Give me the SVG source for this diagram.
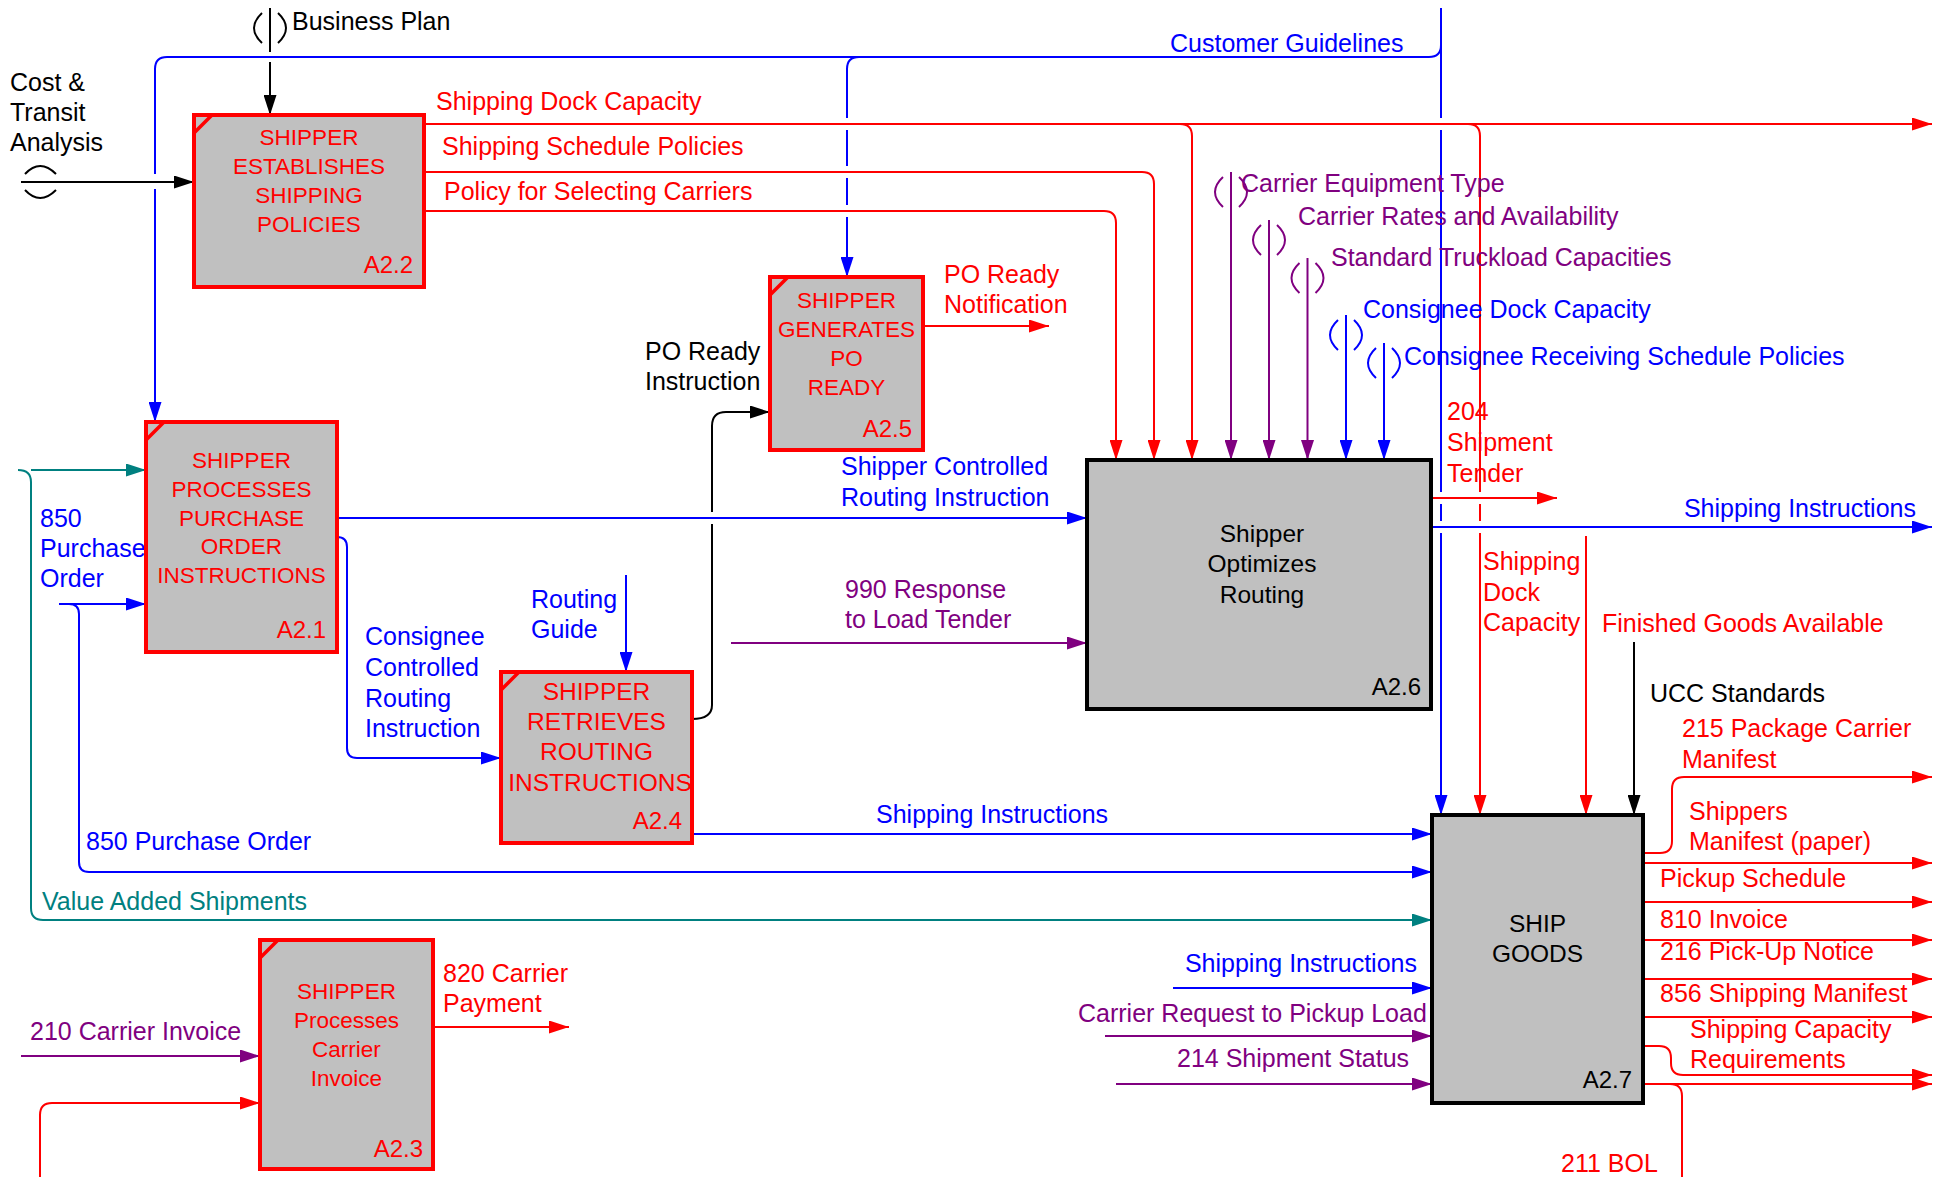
<svg xmlns="http://www.w3.org/2000/svg" width="1938" height="1177" viewBox="0 0 1938 1177">
<style>
text{font-family:"Liberation Sans",Arial,sans-serif;}
.l{font-size:25px;}
.bt{font-size:22.5px;text-anchor:middle;fill:#ff0000;}
.bt2{font-size:24.5px;text-anchor:middle;}
.id{font-size:24px;text-anchor:end;}
.rbox{fill:#c0c0c0;stroke:#ff0000;stroke-width:4;}
.kbox{fill:#c0c0c0;stroke:#000000;stroke-width:4;}
.tick{fill:none;stroke:#ff0000;stroke-width:3.5;}
.c{fill:none;stroke-width:2;}
.R{stroke:#ff0000;}.B{stroke:#0000ff;}.P{stroke:#800080;}.T{stroke:#008080;}.K{stroke:#000000;}
.fR{fill:#ff0000;}.fB{fill:#0000ff;}.fP{fill:#800080;}.fT{fill:#008080;}.fK{fill:#000000;}
</style>
<defs>
<marker id="aR" markerUnits="userSpaceOnUse" markerWidth="20" markerHeight="13" refX="20" refY="6.5" orient="auto"><path d="M0,0L20,6.5L0,13z" fill="#ff0000"/></marker>
<marker id="aB" markerUnits="userSpaceOnUse" markerWidth="20" markerHeight="13" refX="20" refY="6.5" orient="auto"><path d="M0,0L20,6.5L0,13z" fill="#0000ff"/></marker>
<marker id="aP" markerUnits="userSpaceOnUse" markerWidth="20" markerHeight="13" refX="20" refY="6.5" orient="auto"><path d="M0,0L20,6.5L0,13z" fill="#800080"/></marker>
<marker id="aT" markerUnits="userSpaceOnUse" markerWidth="20" markerHeight="13" refX="20" refY="6.5" orient="auto"><path d="M0,0L20,6.5L0,13z" fill="#008080"/></marker>
<marker id="aK" markerUnits="userSpaceOnUse" markerWidth="20" markerHeight="13" refX="20" refY="6.5" orient="auto"><path d="M0,0L20,6.5L0,13z" fill="#000000"/></marker>
</defs>
<rect width="1938" height="1177" fill="#ffffff"/>

<g id="connectors">
<!-- Business Plan -->
<path class="c K" d="M270,8V52"/>
<path class="c K" d="M270,62V115" marker-end="url(#aK)"/>
<path class="c K" d="M262,13Q246,28 262,43M278,13Q294,28 278,43"/>
<!-- Cost & Transit -->
<path class="c K" d="M21,182H194" marker-end="url(#aK)"/>
<path class="c K" d="M25,174Q40,158 56,174M25,190Q40,206 56,190"/>
<!-- Customer Guidelines -->
<path class="c B" d="M1441,8V118M1441,130V492M1441,504V521M1441,533V815" marker-end="url(#aB)"/>
<path class="c B" d="M1441,45Q1441,57 1429,57H167Q155,57 155,69V174M155,189V422" marker-end="url(#aB)"/>
<path class="c B" d="M859,57Q847,57 847,69V118M847,130V166M847,178V205M847,217V277" marker-end="url(#aB)"/>
<!-- Shipping Dock Capacity -->
<path class="c R" d="M424,124H1932" marker-end="url(#aR)"/>
<path class="c R" d="M1180,124Q1192,124 1192,136V460" marker-end="url(#aR)"/>
<path class="c R" d="M1468,124Q1480,124 1480,136V492M1480,504V521M1480,533V815" marker-end="url(#aR)"/>
<!-- Shipping Schedule Policies -->
<path class="c R" d="M424,172H1142Q1154,172 1154,184V460" marker-end="url(#aR)"/>
<!-- Policy for Selecting Carriers -->
<path class="c R" d="M424,211H1104Q1116,211 1116,223V460" marker-end="url(#aR)"/>
<!-- tunnel inputs to A2.6 -->
<path class="c P" d="M1231,172V460" marker-end="url(#aP)"/>
<path class="c P" d="M1223,177Q1207,192 1223,207M1239,177Q1255,192 1239,207"/>
<path class="c P" d="M1269,220V460" marker-end="url(#aP)"/>
<path class="c P" d="M1261,225Q1245,240 1261,255M1277,225Q1293,240 1277,255"/>
<path class="c P" d="M1307.5,258V460" marker-end="url(#aP)"/>
<path class="c P" d="M1299.5,263Q1283.5,278 1299.5,293M1315.5,263Q1331.5,278 1315.5,293"/>
<path class="c B" d="M1346,315V460" marker-end="url(#aB)"/>
<path class="c B" d="M1338,320Q1322,335 1338,350M1354,320Q1370,335 1354,350"/>
<path class="c B" d="M1384,343V460" marker-end="url(#aB)"/>
<path class="c B" d="M1376,348Q1360,363 1376,378M1392,348Q1408,363 1392,378"/>
<!-- A2.6 outputs -->
<path class="c R" d="M1431,498H1557" marker-end="url(#aR)"/>
<path class="c B" d="M1431,527H1932" marker-end="url(#aB)"/>
<!-- A2.7 controls -->
<path class="c R" d="M1586,536V815" marker-end="url(#aR)"/>
<path class="c K" d="M1634,642V815" marker-end="url(#aK)"/>
<!-- A2.7 outputs -->
<path class="c R" d="M1643,853H1660Q1672,853 1672,841V789Q1672,777 1684,777H1932" marker-end="url(#aR)"/>
<path class="c R" d="M1643,863H1932" marker-end="url(#aR)"/>
<path class="c R" d="M1643,902H1932" marker-end="url(#aR)"/>
<path class="c R" d="M1643,940H1932" marker-end="url(#aR)"/>
<path class="c R" d="M1643,979H1932" marker-end="url(#aR)"/>
<path class="c R" d="M1643,1017H1932" marker-end="url(#aR)"/>
<path class="c R" d="M1643,1046H1659Q1671,1046 1671,1058V1063Q1671,1075 1683,1075H1932" marker-end="url(#aR)"/>
<path class="c R" d="M1643,1084H1932" marker-end="url(#aR)"/>
<path class="c R" d="M1670,1084Q1682,1084 1682,1096V1177"/>
<!-- A2.1 outputs -->
<path class="c B" d="M337,518H1087" marker-end="url(#aB)"/>
<path class="c B" d="M337,537Q347,537 347,547V748Q347,758 357,758H501" marker-end="url(#aB)"/>
<!-- Routing Guide -->
<path class="c B" d="M626,575V672" marker-end="url(#aB)"/>
<!-- PO Ready Instruction -->
<path class="c K" d="M692,719Q712,719 712,705V524M712,512V426Q712,412 726,412H770" marker-end="url(#aK)"/>
<!-- PO Ready Notification -->
<path class="c R" d="M923,326H1049" marker-end="url(#aR)"/>
<!-- 990 -->
<path class="c P" d="M731,643H1087" marker-end="url(#aP)"/>
<!-- A2.4 to A2.7 -->
<path class="c B" d="M692,834H1432" marker-end="url(#aB)"/>
<!-- 850 PO -->
<path class="c B" d="M59,604H146" marker-end="url(#aB)"/>
<path class="c B" d="M69,604Q79,604 79,614V862Q79,872 89,872H1432" marker-end="url(#aB)"/>
<!-- Value Added Shipments -->
<path class="c T" d="M31,470H146" marker-end="url(#aT)"/>
<path class="c T" d="M18,470Q31,470 31,482V908Q31,920 43,920H1432" marker-end="url(#aT)"/>
<!-- A2.7 inputs -->
<path class="c B" d="M1173,988H1432" marker-end="url(#aB)"/>
<path class="c P" d="M1105,1036H1432" marker-end="url(#aP)"/>
<path class="c P" d="M1116,1084H1432" marker-end="url(#aP)"/>
<!-- A2.3 -->
<path class="c R" d="M433,1027H569" marker-end="url(#aR)"/>
<path class="c P" d="M21,1056H260" marker-end="url(#aP)"/>
<path class="c R" d="M40,1177V1115Q40,1103 52,1103H260" marker-end="url(#aR)"/>
</g>

<g id="labels">
<text class="l fK" x="292" y="30">Business Plan</text>
<text class="l fK" x="10" y="91">Cost &amp;</text>
<text class="l fK" x="10" y="121">Transit</text>
<text class="l fK" x="10" y="151">Analysis</text>
<text class="l fB" x="1170" y="52">Customer Guidelines</text>
<text class="l fR" x="436" y="110">Shipping Dock Capacity</text>
<text class="l fR" x="442" y="155">Shipping Schedule Policies</text>
<text class="l fR" x="444" y="200">Policy for Selecting Carriers</text>
<text class="l fP" x="1241" y="192">Carrier Equipment Type</text>
<text class="l fP" x="1298" y="225">Carrier Rates and Availability</text>
<text class="l fP" x="1331" y="266">Standard Truckload Capacities</text>
<text class="l fB" x="1363" y="318">Consignee Dock Capacity</text>
<text class="l fB" x="1404" y="365">Consignee Receiving Schedule Policies</text>
<text class="l fR" x="944" y="283">PO Ready</text>
<text class="l fR" x="944" y="313">Notification</text>
<text class="l fK" x="645" y="360">PO Ready</text>
<text class="l fK" x="645" y="390">Instruction</text>
<text class="l fR" x="1447" y="420">204</text>
<text class="l fR" x="1447" y="451">Shipment</text>
<text class="l fR" x="1447" y="482">Tender</text>
<text class="l fB" x="841" y="475">Shipper Controlled</text>
<text class="l fB" x="841" y="506">Routing Instruction</text>
<text class="l fB" x="1916" y="517" text-anchor="end">Shipping Instructions</text>
<text class="l fB" x="40" y="527">850</text>
<text class="l fB" x="40" y="557">Purchase</text>
<text class="l fB" x="40" y="587">Order</text>
<text class="l fP" x="845" y="598">990 Response</text>
<text class="l fP" x="845" y="628">to Load Tender</text>
<text class="l fB" x="531" y="608">Routing</text>
<text class="l fB" x="531" y="638">Guide</text>
<text class="l fB" x="365" y="645">Consignee</text>
<text class="l fB" x="365" y="676">Controlled</text>
<text class="l fB" x="365" y="707">Routing</text>
<text class="l fB" x="365" y="737">Instruction</text>
<text class="l fR" x="1483" y="570">Shipping</text>
<text class="l fR" x="1483" y="601">Dock</text>
<text class="l fR" x="1483" y="631">Capacity</text>
<text class="l fR" x="1602" y="632">Finished Goods Available</text>
<text class="l fK" x="1650" y="702">UCC Standards</text>
<text class="l fR" x="1682" y="737">215 Package Carrier</text>
<text class="l fR" x="1682" y="768">Manifest</text>
<text class="l fB" x="876" y="823">Shipping Instructions</text>
<text class="l fB" x="86" y="850">850 Purchase Order</text>
<text class="l fR" x="1689" y="820">Shippers</text>
<text class="l fR" x="1689" y="850">Manifest (paper)</text>
<text class="l fR" x="1660" y="887">Pickup Schedule</text>
<text class="l fT" x="42" y="910">Value Added Shipments</text>
<text class="l fR" x="1660" y="928">810 Invoice</text>
<text class="l fR" x="1660" y="960">216 Pick-Up Notice</text>
<text class="l fB" x="1417" y="972" text-anchor="end">Shipping Instructions</text>
<text class="l fR" x="1660" y="1002">856 Shipping Manifest</text>
<text class="l fP" x="1078" y="1022">Carrier Request to Pickup Load</text>
<text class="l fR" x="1690" y="1038">Shipping Capacity</text>
<text class="l fR" x="1690" y="1068">Requirements</text>
<text class="l fP" x="1177" y="1067">214 Shipment Status</text>
<text class="l fR" x="443" y="982">820 Carrier</text>
<text class="l fR" x="443" y="1012">Payment</text>
<text class="l fP" x="30" y="1040">210 Carrier Invoice</text>
<text class="l fR" x="1561" y="1172">211 BOL</text>
</g>

<g id="node-A2-2">
<rect class="rbox" x="194" y="115" width="230" height="172"/>
<path class="tick" d="M194,133L212,115"/>
<text class="bt" x="309" y="145">SHIPPER</text>
<text class="bt" x="309" y="174">ESTABLISHES</text>
<text class="bt" x="309" y="203">SHIPPING</text>
<text class="bt" x="309" y="232">POLICIES</text>
<text class="id fR" x="413" y="273">A2.2</text>
</g>
<g id="node-A2-1">
<rect class="rbox" x="146" y="422" width="191" height="230"/>
<path class="tick" d="M146,440L164,422"/>
<text class="bt" x="241.5" y="468">SHIPPER</text>
<text class="bt" x="241.5" y="497">PROCESSES</text>
<text class="bt" x="241.5" y="526">PURCHASE</text>
<text class="bt" x="241.5" y="554">ORDER</text>
<text class="bt" x="241.5" y="583">INSTRUCTIONS</text>
<text class="id fR" x="326" y="638">A2.1</text>
</g>
<g id="node-A2-5">
<rect class="rbox" x="770" y="277" width="153" height="173"/>
<path class="tick" d="M770,295L788,277"/>
<text class="bt" x="846.5" y="308">SHIPPER</text>
<text class="bt" x="846.5" y="337">GENERATES</text>
<text class="bt" x="846.5" y="366">PO</text>
<text class="bt" x="846.5" y="395">READY</text>
<text class="id fR" x="912" y="437">A2.5</text>
</g>
<g id="node-A2-4">
<rect class="rbox" x="501" y="672" width="191" height="171"/>
<path class="tick" d="M501,690L519,672"/>
<text class="bt" style="font-size:24.5px" x="596.5" y="700">SHIPPER</text>
<text class="bt" style="font-size:24.5px" x="596.5" y="730">RETRIEVES</text>
<text class="bt" style="font-size:24.5px" x="596.5" y="760">ROUTING</text>
<text class="bt" style="font-size:24.5px" x="600" y="791">INSTRUCTIONS</text>
<text class="id fR" x="682" y="829">A2.4</text>
</g>
<g id="node-A2-3">
<rect class="rbox" x="260" y="940" width="173" height="229"/>
<path class="tick" d="M260,958L278,940"/>
<text class="bt" x="346.5" y="999">SHIPPER</text>
<text class="bt" x="346.5" y="1028">Processes</text>
<text class="bt" x="346.5" y="1057">Carrier</text>
<text class="bt" x="346.5" y="1086">Invoice</text>
<text class="id fR" x="423" y="1157">A2.3</text>
</g>
<g id="node-A2-6">
<rect class="kbox" x="1087" y="460" width="344" height="249"/>
<text class="bt2 fK" x="1262" y="542">Shipper</text>
<text class="bt2 fK" x="1262" y="572">Optimizes</text>
<text class="bt2 fK" x="1262" y="603">Routing</text>
<text class="id fK" x="1421" y="695">A2.6</text>
</g>
<g id="node-A2-7">
<rect class="kbox" x="1432" y="815" width="211" height="288"/>
<text class="bt2 fK" x="1537.5" y="932">SHIP</text>
<text class="bt2 fK" x="1537.5" y="962">GOODS</text>
<text class="id fK" x="1632" y="1088">A2.7</text>
</g>
</svg>
